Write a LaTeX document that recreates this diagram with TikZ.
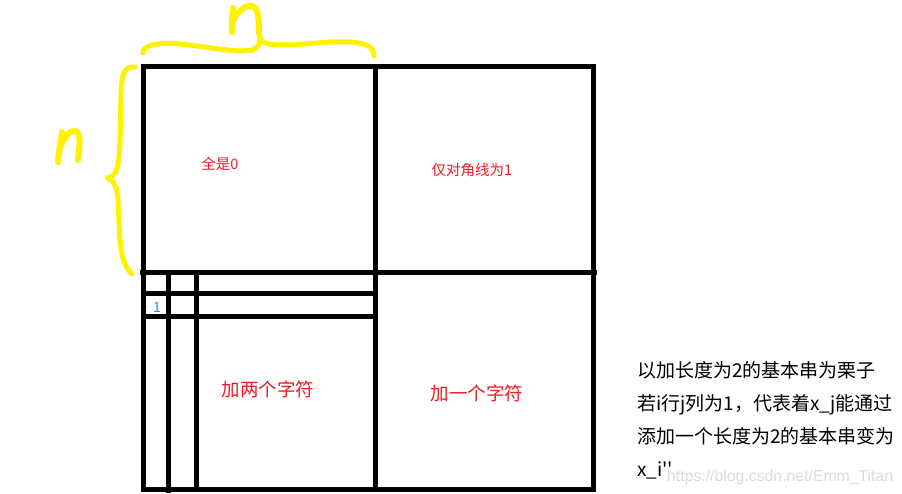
\documentclass[tikz,border=0pt]{standalone}
\usepackage{fontspec}
\setmainfont{Liberation Sans}
\newfontfamily\cjk{Noto Sans CJK SC}
\definecolor{pred}{RGB}{237,28,36}
\definecolor{pblue}{RGB}{0,162,232}
\definecolor{pyellow}{RGB}{255,242,0}
\begin{document}
\begin{tikzpicture}[x=1pt,y=-1pt,
  gridline/.style={line width=5pt,black},
  brace/.style={line width=5pt,pyellow,line cap=round,line join=round},
  letter/.style={line width=6pt,pyellow,line cap=round,line join=round},
  redsmall/.style={inner sep=0pt,text=pred,font=\cjk\fontsize{14.5}{14.5}\selectfont},
  redbig/.style={inner sep=0pt,text=pred,font=\cjk\fontsize{18.5}{18.5}\selectfont},
  note/.style={inner sep=0pt,anchor=base west,text=black,font=\cjk\fontsize{19}{19}\selectfont},
  mark1/.style={inner sep=0pt,text=pblue,font=\cjk\fontsize{14}{14}\selectfont},
  wmark/.style={inner sep=0pt,anchor=base west,text=gray!28,font=\fontsize{15.8}{15.8}\selectfont}]
\useasboundingbox[fill=white] (0,0) rectangle (902,494);
% grid
\coordinate (tl) at (143,67);
\coordinate (tr) at (593,67);
\coordinate (bl) at (143,489);
\coordinate (br) at (593,489);
\coordinate (tm) at (375,67);
\coordinate (bm) at (375,489);
\coordinate (ml) at (140,273);
\coordinate (mr) at (597,273);
\draw[gridline] (tl) -- (tr) -- (br) -- (bl) -- cycle;
\draw[gridline] (tm) -- (bm);
\draw[gridline] (ml) -- (mr);
\coordinate (h1l) at (143,294);
\coordinate (h1r) at (375,294);
\coordinate (h2l) at (143,316);
\coordinate (h2r) at (375,316);
\draw[gridline] (h1l) -- (h1r);
\draw[gridline] (h2l) -- (h2r);
\coordinate (v1t) at (168,273);
\coordinate (v1b) at (168,493);
\coordinate (v2t) at (196,273);
\coordinate (v2b) at (196,490);
\draw[gridline] (v1t) -- (v1b);
\draw[gridline] (v2t) -- (v2b);
% yellow braces
\draw[brace] (143,53) .. controls (142,45) and (160,42) .. (180,44)
  .. controls (210,47) and (235,53) .. (252,50)
  .. controls (258,48) and (260,44) .. (260,37);
\draw[brace] (260,38) .. controls (261,44) and (270,45) .. (290,45)
  .. controls (310,44) and (330,41) .. (350,42)
  .. controls (368,43) and (374,48) .. (374,56);
\draw[brace] (135,67) .. controls (124,67) and (122,72) .. (121,95)
  .. controls (120,130) and (121,165) .. (115,173)
  .. controls (112,177) and (110,178) .. (107,178)
  .. controls (113,180) and (117,185) .. (118,200)
  .. controls (120,240) and (119,262) .. (132,274);
% letters n
\draw[letter] (58,162) .. controls (59,150) and (61,140) .. (62,132);
\draw[letter] (60,148) .. controls (65,135) and (71,130) .. (75,131)
  .. controls (81,132) and (80,145) .. (78,160);
\draw[letter] (232,32) .. controls (232,22) and (232,14) .. (233,8);
\draw[letter] (232,22) .. controls (238,10) and (246,5) .. (252,6)
  .. controls (259,8) and (259,20) .. (259,34);
% labels
\node[redsmall] (z) at (220,164) {全是0};
\node[redsmall] (d) at (472,170) {仅对角线为1};
\node[redbig] (two) at (268,389) {加两个字符};
\node[redbig] (one) at (477,393) {加一个字符};
\node[mark1] (b1) at (157,308) {1};
\node[note] (l1) at (637,377) {以加长度为2的基本串为栗子};
\node[note] (l2) at (637,410) {若i行j列为1，代表着x\_j能通过};
\node[note] (l3) at (637,443) {添加一个长度为2的基本串变为};
\node[note] (l4) at (637,476) {x\_i''};
\node[wmark] (w) at (667,481) {https://blog.csdn.net/Emm\_Titan};
\end{tikzpicture}
\end{document}
